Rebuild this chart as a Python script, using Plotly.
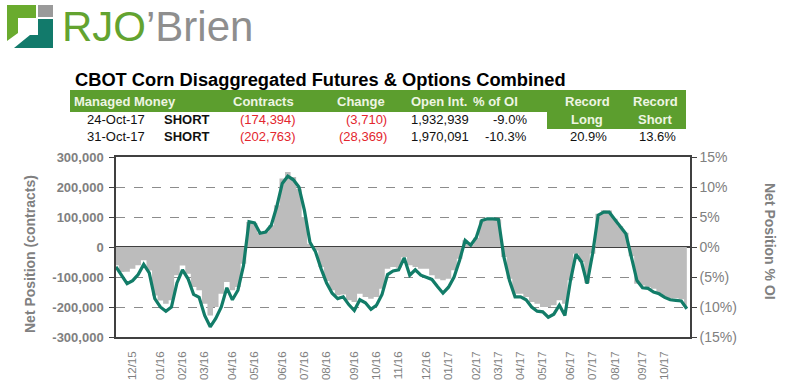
import plotly.graph_objects as go
import pandas as pd

# ---------------- data ----------------
weeks = pd.date_range("2015-11-10", periods=104, freq="7D")  # weekly COT report dates

contracts = [
    -61200, -83400, -82800, -72100, -60900, -44300, -78200, -161400, -178300, -189100,
    -177800, -94200, -61300, -88900, -133200, -144100, -189400, -228300, -200100, -155800,
    -116900, -144200, -133400, -55600, 83100, 80200, 47400, 50100, 72300, 138900,
    228100, 249800, 233200, 194400, 100300, 11200, -11400, -66800, -113100, -144300,
    -161200, -158100, -177900, -183300, -155600, -166900, -172200, -166700, -138900, -72300,
    -66800, -69100, -33300, -61200, -66700, -72400, -72100, -94300, -105900, -111200,
    -105800, -77900, -38900, 22300, 7200, 31100, 88900, 94300, 94100, 92200,
    -33300, -105900, -155600, -156100, -166800, -183400, -188900, -200200, -199800, -194300,
    -177800, -188900, -111200, -22300, -50100, -120300, -22100, 111200, 122300, 121800,
    94400, 68900, 47300, -31200, -122400, -128100, -133300, -138900, -155600, -166700,
    -172200, -171100, -174394, -202763,
]

pct_oi = [
    -3.3, -4.7, -6.1, -5.6, -4.6, -2.9, -4.3, -8.6, -10.0, -10.7,
    -10.0, -6.0, -3.8, -5.3, -7.9, -8.4, -11.4, -13.3, -11.9, -10.0,
    -6.8, -8.8, -7.2, -3.1, 4.2, 4.0, 2.3, 2.5, 3.6, 6.7,
    10.6, 11.8, 11.2, 10.0, 6.1, 0.8, -0.8, -3.6, -6.0, -7.7,
    -8.6, -8.3, -9.6, -10.6, -8.8, -9.3, -10.4, -9.7, -7.9, -4.6,
    -4.0, -3.8, -1.8, -4.7, -3.8, -4.7, -5.0, -5.4, -6.6, -7.7,
    -6.7, -5.0, -2.2, 1.1, 0.3, 1.6, 4.4, 4.7, 4.7, 4.6,
    -1.7, -5.6, -8.3, -8.3, -8.8, -10.0, -10.7, -10.8, -11.7, -11.2,
    -9.7, -11.4, -5.6, -1.2, -2.5, -6.1, -1.1, 5.3, 5.8, 5.8,
    4.6, 3.3, 2.2, -1.7, -5.6, -6.8, -6.9, -7.5, -7.8, -8.4,
    -8.8, -8.9, -9.0, -10.3,
]

tick_dates = [
    "2015-12-01", "2016-01-05", "2016-02-02", "2016-03-01", "2016-04-05", "2016-05-03",
    "2016-06-07", "2016-07-05", "2016-08-02", "2016-09-06", "2016-10-04", "2016-11-01",
    "2016-12-06", "2017-01-03", "2017-02-07", "2017-03-07", "2017-04-04", "2017-05-02",
    "2017-06-06", "2017-07-04", "2017-08-01", "2017-09-05", "2017-10-03",
]
tick_labels = [
    "12/15", "01/16", "02/16", "03/16", "04/16", "05/16", "06/16", "07/16", "08/16",
    "09/16", "10/16", "11/16", "12/16", "01/17", "02/17", "03/17", "04/17", "05/17",
    "06/17", "07/17", "08/17", "09/17", "10/17",
]

y_ticks = [-300000, -200000, -100000, 0, 100000, 200000, 300000]
y_tick_labels = ["-300,000", "-200,000", "-100,000", "0", "100,000", "200,000", "300,000"]
y2_ticks = [-15, -10, -5, 0, 5, 10, 15]
y2_tick_labels = ["(15%)", "(10%)", "(5%)", "0%", "5%", "10%", "15%"]

title_text = "CBOT Corn Disaggregated Futures & Options Combined"
header_labels = ["Managed Money", "Contracts", "Change", "Open Int.", "% of OI"]
record_titles = ["Record", "Record"]
record_subtitles = ["Long", "Short"]
row_dates = ["24-Oct-17", "31-Oct-17"]
row_positions = ["SHORT", "SHORT"]
row_contracts = ["(174,394)", "(202,763)"]
row_change = ["(3,710)", "(28,369)"]
row_open_int = ["1,932,939", "1,970,091"]
row_pct = ["-9.0%", "-10.3%"]
record_values = ["20.9%", "13.6%"]

# ---------------- styling ----------------
W, H = 786, 382
PL, PR, PT, PB = 116, 690, 157, 337
FONT = "Liberation Sans, Arial, sans-serif"
GRAY_TXT = "#808080"
GREEN = "#5c9e2e"
HDR_TXT = "#eef5e2"
RED = "#e3262e"
TEAL = "#127c68"
AXIS = "#404040"


def px(x):
    return (x - PL) / (PR - PL)


def py(y):
    return (PB - y) / (PB - PT)


annotations = []


def ann(text, x, y, size, color, bold=False, xanchor="center", angle=0):
    annotations.append(dict(
        text=text, x=px(x), y=py(y), xref="paper", yref="paper",
        xanchor=xanchor, yanchor="middle", showarrow=False, textangle=angle,
        font=dict(family=FONT, size=size, color=color, weight="bold" if bold else "normal"),
    ))


shapes = []


def rect(x0, y0, x1, y1, color):
    shapes.append(dict(type="rect", xref="paper", yref="paper",
                       x0=px(x0), x1=px(x1), y0=py(y1), y1=py(y0),
                       fillcolor=color, line=dict(width=0), layer="above"))


def poly(points, color):
    path = "M " + " L ".join(f"{px(a):.5f},{py(b):.5f}" for a, b in points) + " Z"
    shapes.append(dict(type="path", xref="paper", yref="paper", path=path,
                       fillcolor=color, line=dict(width=0), layer="above"))


# logo
poly([(7, 5), (36, 5), (36, 18), (18, 18), (18, 33), (7, 41)], "#6aab2e")
rect(38, 5, 53, 17, "#9a9a9a")
poly([(38, 19), (53, 19), (53, 48), (14, 48), (30, 35), (38, 35)], "#127a6b")
ann("<span style='color:#63a330'>RJO</span><span style='color:#8e8e8e'>\u2019Brien</span>",
    60, 27, 42, GRAY_TXT, xanchor="left")

# title
ann(title_text, 73, 79, 18.3, "#000000", bold=True, xanchor="left")

# table background
rect(70, 90, 686, 112, GREEN)
rect(547, 90, 686, 129, GREEN)

HY, R1, R2 = 101, 119, 136
ann(header_labels[0], 72, HY, 13, HDR_TXT, bold=True, xanchor="left")
ann(header_labels[1], 263, HY, 13, HDR_TXT, bold=True)
ann(header_labels[2], 361, HY, 13, HDR_TXT, bold=True)
ann(header_labels[3], 439, HY, 13, HDR_TXT, bold=True)
ann(header_labels[4], 495, HY, 13, HDR_TXT, bold=True)
for cx, t, s in zip([587, 655], record_titles, record_subtitles):
    ann(t, cx, HY, 13, HDR_TXT, bold=True)
    ann(s, cx, R1, 13, HDR_TXT, bold=True)

for i, ry in enumerate([R1, R2]):
    ann(row_dates[i], 147, ry, 13, "#111111", xanchor="right")
    ann(row_positions[i], 162, ry, 13, "#111111", bold=True, xanchor="left")
    ann(row_contracts[i], 298, ry, 13, RED, xanchor="right")
    ann(row_change[i], 389, ry, 13, RED, xanchor="right")
    ann(row_open_int[i], 471, ry, 13, "#111111", xanchor="right")
    ann(row_pct[i], 529, ry, 13, "#111111", xanchor="right")
for cx, v in zip([588, 657], record_values):
    ann(v, cx, R2, 13, "#111111")

# axis titles
ann("Net Position (contracts)", 30, 254, 14, GRAY_TXT, bold=True, angle=-90)
ann("Net Position % OI", 770, 241, 14, GRAY_TXT, bold=True, angle=90)

# ---------------- figure ----------------
fig = go.Figure()
fig.add_trace(go.Scatter(
    x=weeks, y=contracts, mode="lines", line=dict(width=0, shape="hvh"),
    fill="tozeroy", fillcolor="#bcbcbc", yaxis="y", hoverinfo="skip", showlegend=False,
))
fig.add_trace(go.Scatter(
    x=weeks, y=pct_oi, mode="lines", line=dict(color=TEAL, width=3.2),
    yaxis="y2", showlegend=False,
))

fig.update_layout(
    width=W, height=H,
    margin=dict(l=PL, r=W - PR, t=PT, b=H - PB, pad=0, autoexpand=False),
    paper_bgcolor="white", plot_bgcolor="white",
    font=dict(family=FONT),
    xaxis=dict(
        type="date", range=["2015-11-10", "2017-11-04"], automargin=False,
        tickmode="array", tickvals=tick_dates, ticktext=tick_labels, tickangle=-90,
        tickfont=dict(size=11.5, color=GRAY_TXT),
        showgrid=False, zeroline=False,
        showline=True, linecolor=AXIS, linewidth=1.5, mirror=True,
        ticks="outside", ticklen=8, tickcolor="rgba(0,0,0,0)",
    ),
    yaxis=dict(
        range=[-300000, 300000], automargin=False,
        tickmode="array", tickvals=y_ticks, ticktext=y_tick_labels,
        tickfont=dict(size=13, color=GRAY_TXT, weight="bold"),
        showgrid=True, gridcolor="#8c8c8c", griddash="dash", gridwidth=1,
        zeroline=True, zerolinecolor=AXIS, zerolinewidth=1.5,
        showline=True, linecolor=AXIS, linewidth=1.5,
        ticks="outside", ticklen=5, tickcolor=AXIS, ticklabelstandoff=3,
    ),
    yaxis2=dict(
        range=[-15, 15], overlaying="y", side="right", automargin=False,
        tickmode="array", tickvals=y2_ticks, ticktext=y2_tick_labels,
        tickfont=dict(size=14, color=GRAY_TXT),
        showgrid=False, zeroline=False,
        showline=True, linecolor=AXIS, linewidth=1.5,
        ticks="outside", ticklen=5, tickcolor=AXIS,
    ),
    shapes=shapes,
    annotations=annotations,
)

fig.write_html("out.html", config={"displayModeBar": False},
               post_script="document.body.style.margin='0';")
